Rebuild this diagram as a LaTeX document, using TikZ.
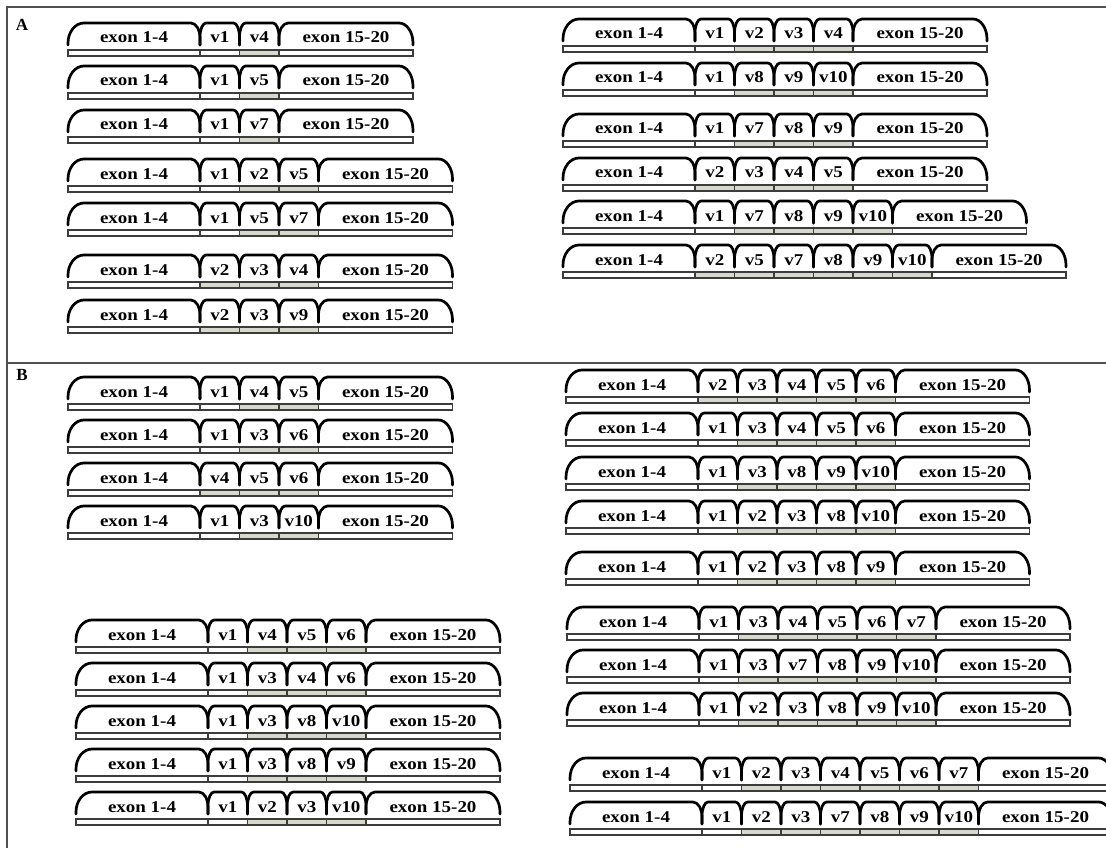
\documentclass[tikz,border=0pt]{standalone}
\usepackage{graphicx}
\usepackage{fontspec}
\setmainfont{Liberation Serif}[BoldFont={Liberation Serif Bold}]
\definecolor{varfill}{RGB}{216,216,204}
\definecolor{barline}{RGB}{60,60,60}
\definecolor{framegray}{RGB}{80,80,80}

\tikzset{
  capline/.style={line width=2.7pt,line join=round,line cap=round},
  bar/.style={draw=barline,line width=1.2pt,fill=white},
  lbl/.style={font=\fontsize{16.5}{18}\selectfont\bfseries,anchor=base,inner sep=0pt},
  panel/.style={font=\fontsize{17}{19}\selectfont\bfseries,anchor=base,inner sep=0pt},
  frame/.style={framegray,line width=2pt}
}

\newcommand{\wide}[1]{\scalebox{1.15}[1]{#1}}

% cap over one exon block: x left, x right, top, left rx/ry, right rx/ry
\newcommand{\capseg}[7]{%
  \draw[capline] (#1,#3+22) -- (#1,#3+#5)
    .. controls (#1,#3+0.45*#5) and (#1+0.45*#4,#3) .. (#1+#4,#3)
    -- (#2-#6,#3)
    .. controls (#2-0.45*#6,#3) and (#2,#3+0.45*#7) .. (#2,#3+#7)
    -- (#2,#3+22);}

% one isoform: name, x start, text y, variant exons
\newcommand{\isoform}[4]{%
  \pgfmathsetmacro\yt{#3-14}
  \pgfmathsetmacro\xa{#2+132}
  \capseg{#2}{\xa}{\yt}{16}{20}{9}{15}
  \draw[bar] (#2,\yt+27) rectangle (\xa,\yt+33);
  \node[lbl] (#1-a) at ({(#2+\xa)/2},\yt+20) {\wide{exon 1-4}};
  \foreach \n [count=\i] in {#4} {
    \pgfmathsetmacro\xl{\xa+(\i-1)*39.5}
    \pgfmathsetmacro\xr{\xl+39.5}
    \capseg{\xl}{\xr}{\yt}{6}{14}{6}{14}
    \ifnum\n=1 \def\cellfill{white}\else\def\cellfill{varfill}\fi
    \draw[bar,fill=\cellfill] (\xl,\yt+27) rectangle (\xr,\yt+33);
    \node[lbl] (#1-v\n) at ({(\xl+\xr)/2},\yt+20) {\wide{v\n}};
    \xdef\xend{\xr}
  }
  \pgfmathsetmacro\xz{\xend+134}
  \capseg{\xend}{\xz}{\yt}{9}{15}{14}{20}
  \draw[bar] (\xend,\yt+27) rectangle (\xz,\yt+33);
  \node[lbl] (#1-b) at ({(\xend+\xz)/2},\yt+20) {\wide{exon 15-20}};
}

\begin{document}
\begin{tikzpicture}[x=1pt,y=-1pt]
  \useasboundingbox[fill=white] (0,0) rectangle (1106,848);
  \draw[frame] (1106,7) -- (7,7) -- (7,848);
  \draw[frame,line width=2.6pt] (7,363) -- (1106,363);
  \node[panel] (A) at (22,31) {A};
  \node[panel] (B) at (22,380) {B};

  \isoform{al1}{68}{37}{1,4}
  \isoform{al2}{68}{80}{1,5}
  \isoform{al3}{68}{124}{1,7}
  \isoform{al4}{68}{173}{1,2,5}
  \isoform{al5}{68}{217}{1,5,7}
  \isoform{al6}{68}{269}{2,3,4}
  \isoform{al7}{68}{314}{2,3,9}

  \isoform{ar1}{563}{33}{1,2,3,4}
  \isoform{ar2}{563}{77}{1,8,9,10}
  \isoform{ar3}{563}{128}{1,7,8,9}
  \isoform{ar4}{563}{172}{2,3,4,5}
  \isoform{ar5}{563}{215}{1,7,8,9,10}
  \isoform{ar6}{563}{259}{2,5,7,8,9,10}

  \isoform{bl1}{68}{391}{1,4,5}
  \isoform{bl2}{68}{434}{1,3,6}
  \isoform{bl3}{68}{477}{4,5,6}
  \isoform{bl4}{68}{520}{1,3,10}
  \isoform{bl5}{76}{634}{1,4,5,6}
  \isoform{bl6}{76}{677}{1,3,4,6}
  \isoform{bl7}{76}{720}{1,3,8,10}
  \isoform{bl8}{76}{763}{1,3,8,9}
  \isoform{bl9}{76}{806}{1,2,3,10}

  \isoform{br1}{566}{384}{2,3,4,5,6}
  \isoform{br2}{566}{427}{1,3,4,5,6}
  \isoform{br3}{566}{471}{1,3,8,9,10}
  \isoform{br4}{566}{515}{1,2,3,8,10}
  \isoform{br5}{566}{566}{1,2,3,8,9}
  \isoform{br6}{567}{621}{1,3,4,5,6,7}
  \isoform{br7}{567}{664}{1,3,7,8,9,10}
  \isoform{br8}{567}{707}{1,2,3,8,9,10}
  \isoform{br9}{570}{772}{1,2,3,4,5,6,7}
  \isoform{br10}{570}{816}{1,2,3,7,8,9,10}
\end{tikzpicture}
\end{document}
